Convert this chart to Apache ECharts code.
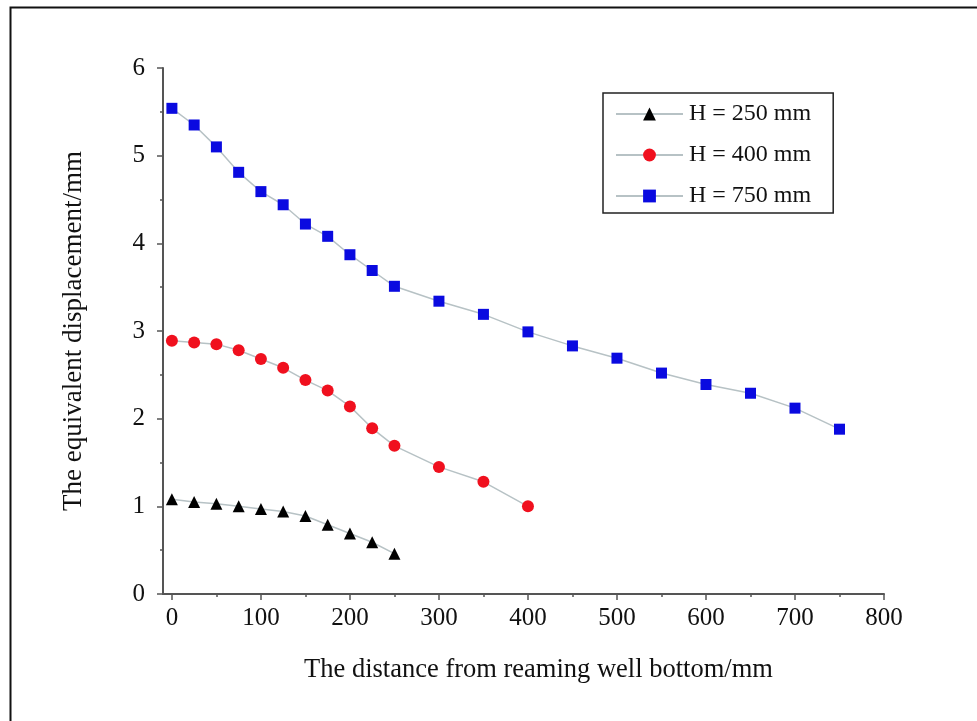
<!DOCTYPE html>
<html>
<head>
<meta charset="utf-8">
<script src="https://cdn.jsdelivr.net/npm/echarts@6/dist/echarts.min.js"></script>
<style>html,body{margin:0;padding:0;background:#fff;}#c{width:977px;height:721px;}</style>
</head>
<body>
<div id="c"></div>
<script>
const xTickLabels = [0, 100, 200, 300, 400, 500, 600, 700, 800];
const xMinorTicks = [50, 150, 250, 350, 450, 550, 650, 750];
const xH250 = [0, 25, 50, 75, 100, 125, 150, 175, 200, 225, 250];
const yH250 = [1.08, 1.05, 1.03, 1.00, 0.97, 0.94, 0.89, 0.79, 0.69, 0.59, 0.46];
const xH400 = [0, 25, 50, 75, 100, 125, 150, 175, 200, 225, 250, 300, 350, 400];
const yH400 = [2.89, 2.87, 2.85, 2.78, 2.68, 2.58, 2.44, 2.32, 2.14, 1.89, 1.69, 1.45, 1.28, 1.00];
const xH750 = [0, 25, 50, 75, 100, 125, 150, 175, 200, 225, 250, 300, 350, 400, 450, 500, 550, 600, 650, 700, 750];
const yH750 = [5.54, 5.35, 5.10, 4.81, 4.59, 4.44, 4.22, 4.08, 3.87, 3.69, 3.51, 3.34, 3.19, 2.99, 2.83, 2.69, 2.52, 2.39, 2.29, 2.12, 1.88];
const seriesNames = ['H = 250 mm', 'H = 400 mm', 'H = 750 mm'];

const FONT = "'Liberation Serif', 'Times New Roman', serif";
const pair = (xs, ys) => xs.map((x, i) => [x, ys[i]]);

const chart = echarts.init(document.getElementById('c'), null, {renderer: 'canvas'});
const lineStyle = {color: '#b7c2c5', width: 1.5};
chart.setOption({
  animation: false,
  backgroundColor: '#fff',
  graphic: [{
    type: 'rect', left: 8, top: 5, shape: {width: 1100, height: 900},
    style: {fill: 'none', stroke: '#111', lineWidth: 2}, z: 0
  }],
  grid: {left: 163, right: 93, top: 68, bottom: 127, containLabel: false},
  legend: {
    left: 603, top: 93, orient: 'vertical',
    padding: [9, 22, 5, 12],
    itemWidth: 67, itemHeight: 16, itemGap: 17,
    borderColor: '#222', borderWidth: 1.5, backgroundColor: '#fff',
    textStyle: {fontFamily: FONT, fontSize: 24, color: '#111', padding: [0, 0, 0, 1]},
    data: seriesNames
  },
  xAxis: [{
    type: 'value', min: -10, max: 800,
    name: 'The distance from reaming well bottom/mm', nameLocation: 'middle', nameGap: 63,
    nameTextStyle: {fontFamily: FONT, fontSize: 26.5, color: '#111', padding: [0, 0, 0, 30]},
    axisLine: {show: true, onZero: false, lineStyle: {color: '#555', width: 2}},
    axisTick: {show: true, length: 6, customValues: xTickLabels, lineStyle: {color: '#555', width: 1.5}},
    axisLabel: {customValues: xTickLabels, fontFamily: FONT, fontSize: 25, color: '#111', margin: 12},
    splitLine: {show: false}
  }, {
    type: 'value', min: -10, max: 800, position: 'bottom',
    axisLine: {show: false},
    axisTick: {show: true, length: 3, customValues: xMinorTicks, lineStyle: {color: '#555', width: 1.5}},
    axisLabel: {show: false},
    splitLine: {show: false}
  }],
  yAxis: {
    type: 'value', min: 0, max: 6, interval: 1,
    name: 'The equivalent displacement/mm', nameLocation: 'middle', nameGap: 76,
    nameTextStyle: {fontFamily: FONT, fontSize: 27, color: '#111'},
    axisLine: {show: true, onZero: false, lineStyle: {color: '#555', width: 2}},
    axisTick: {show: true, length: 6, lineStyle: {color: '#555', width: 1.5}},
    minorTick: {show: true, splitNumber: 2, length: 3, lineStyle: {color: '#555', width: 1.5}},
    axisLabel: {fontFamily: FONT, fontSize: 25, color: '#111', margin: 18},
    splitLine: {show: false}
  },
  series: [{
    name: seriesNames[0], type: 'line', xAxisIndex: 0, data: pair(xH250, yH250),
    symbol: 'triangle', symbolSize: 12, itemStyle: {color: '#000'}, lineStyle: lineStyle
  }, {
    name: seriesNames[1], type: 'line', xAxisIndex: 0, data: pair(xH400, yH400),
    symbol: 'circle', symbolSize: 12, itemStyle: {color: '#f0101e'}, lineStyle: lineStyle
  }, {
    name: seriesNames[2], type: 'line', xAxisIndex: 0, data: pair(xH750, yH750),
    symbol: 'rect', symbolSize: 11, itemStyle: {color: '#0a0ae0'}, lineStyle: lineStyle
  }]
});
</script>
</body>
</html>
